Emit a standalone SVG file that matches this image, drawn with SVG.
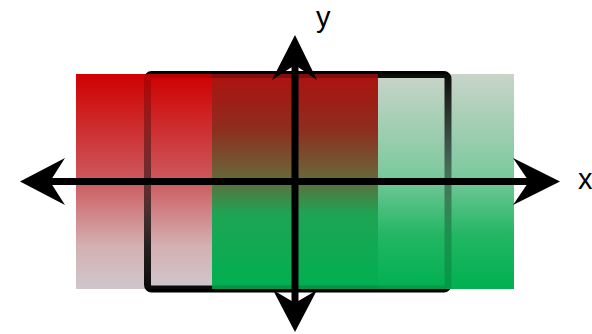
<svg xmlns="http://www.w3.org/2000/svg" width="592" height="334" viewBox="0 0 592 334">
  <style>
    .lbl { font-family: "Liberation Sans", Arial, sans-serif; font-size: 29px; fill: #000; }
    .axis { stroke: #000; stroke-width: 7; fill: none; }
    .head { fill: #000; stroke: none; }
    .frame { fill: none; stroke: #000; stroke-width: 7; }
  </style>
  <defs>
    <linearGradient id="gA" x1="0" y1="0" x2="0" y2="1">
      <stop offset="0" stop-color="#cf0000"/>
      <stop offset="0.5" stop-color="#cc5a5e"/>
      <stop offset="0.8" stop-color="#d4b0b2"/>
      <stop offset="1" stop-color="#cfc7cc"/>
    </linearGradient>
    <linearGradient id="gB" x1="0" y1="0" x2="0" y2="1">
      <stop offset="0" stop-color="#ad1210"/>
      <stop offset="0.25" stop-color="#8e2c1e"/>
      <stop offset="0.47" stop-color="#6a6438"/>
      <stop offset="0.65" stop-color="#1ea454"/>
      <stop offset="1" stop-color="#00b050"/>
    </linearGradient>
    <linearGradient id="gC" x1="0" y1="0" x2="0" y2="1">
      <stop offset="0" stop-color="#c9d4c9"/>
      <stop offset="0.45" stop-color="#80caa0"/>
      <stop offset="0.75" stop-color="#22b663"/>
      <stop offset="1" stop-color="#00b050"/>
    </linearGradient>
    <linearGradient id="oA" x1="0" y1="0" x2="0" y2="1">
      <stop offset="0" stop-color="#cf0000" stop-opacity="0.88"/>
      <stop offset="0.5" stop-color="#cc5a5e" stop-opacity="0.5"/>
      <stop offset="0.8" stop-color="#d4b0b2" stop-opacity="0.18"/>
      <stop offset="1" stop-color="#cfc7cc" stop-opacity="0.05"/>
    </linearGradient>
    <linearGradient id="oB" x1="0" y1="0" x2="0" y2="1">
      <stop offset="0" stop-color="#ad1210" stop-opacity="0.75"/>
      <stop offset="0.25" stop-color="#8e2c1e" stop-opacity="0.55"/>
      <stop offset="0.47" stop-color="#6a6438" stop-opacity="0.45"/>
      <stop offset="0.65" stop-color="#1ea454" stop-opacity="0.6"/>
      <stop offset="1" stop-color="#00b050" stop-opacity="0.85"/>
    </linearGradient>
    <linearGradient id="oC" x1="0" y1="0" x2="0" y2="1">
      <stop offset="0" stop-color="#c9d4c9" stop-opacity="0.05"/>
      <stop offset="0.45" stop-color="#80caa0" stop-opacity="0.55"/>
      <stop offset="0.75" stop-color="#22b663" stop-opacity="0.8"/>
      <stop offset="1" stop-color="#00b050" stop-opacity="0.88"/>
    </linearGradient>
  </defs>

  <g id="regions">
    <rect x="76" y="74" width="136" height="215" fill="url(#gA)"/>
    <rect x="212" y="74" width="166" height="215" fill="url(#gB)"/>
    <rect x="378" y="74" width="136" height="215" fill="url(#gC)"/>
  </g>

  <g id="frame">
    <rect class="frame" x="147.5" y="74.5" width="300.5" height="214.5" rx="4"/>
  </g>

  <g id="region-overlay">
    <rect x="76" y="74" width="136" height="215" fill="url(#oA)"/>
    <rect x="212" y="74" width="166" height="215" fill="url(#oB)"/>
    <rect x="378" y="74" width="136" height="215" fill="url(#oC)"/>
  </g>

  <g id="axes">
    <line class="axis" x1="48" y1="181.5" x2="531" y2="181.5"/>
    <line class="axis" x1="295" y1="63" x2="295" y2="304"/>
    <polygon class="head" points="20,181.5 65,158 50,181.5 65,205"/>
    <polygon class="head" points="560,181.5 513,158 529,181.5 513,205"/>
    <polygon class="head" points="295,35 272,80 295,65 317,80"/>
    <polygon class="head" points="295,332 273,290 295,303 317,290"/>
  </g>

  <g id="labels">
    <text class="lbl" x="316" y="27">y</text>
    <text class="lbl" x="578" y="189">x</text>
  </g>
</svg>
